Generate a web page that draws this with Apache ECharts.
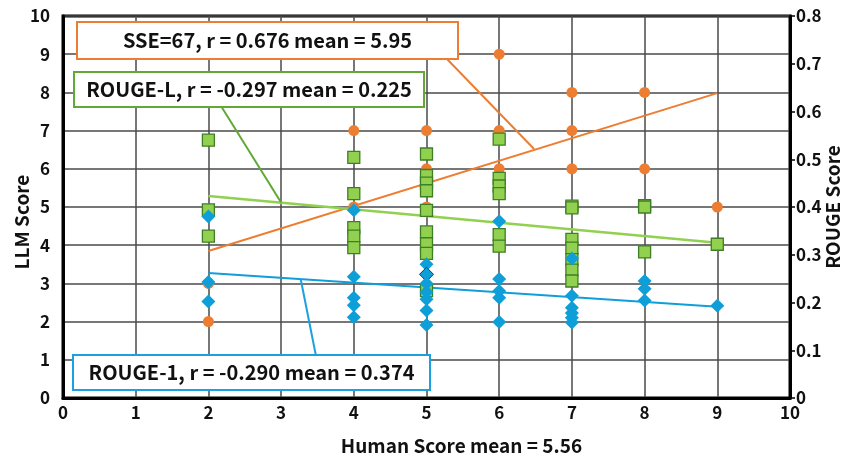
<!DOCTYPE html>
<html>
<head>
<meta charset="utf-8">
<script src="https://cdn.jsdelivr.net/npm/echarts@6/dist/echarts.min.js"></script>
<style>html,body{margin:0;padding:0;background:#fff}#c{width:845px;height:464px}</style>
</head>
<body>
<div id="c"></div>
<script>
// ---- data ----
const xTicks = [0,1,2,3,4,5,6,7,8,9,10];
const llmX = [2,2,4,4,5,5,5,6,6,6,7,7,7,8,8,9];
const llmY = [3,2,7,5,7,6,5,9,7,6,8,7,6,8,6,5];
const rougeLX = [2,2,2,4,4,4,4,4,5,5,5,5,5,5,5,5,5,6,6,6,6,6,6,7,7,7,7,7,7,7,8,8,8,9];
const rougeLY = [0.540,0.394,0.339,0.504,0.428,0.357,0.339,0.315,0.511,0.466,0.450,0.434,0.393,0.348,0.323,0.303,0.225,0.542,0.460,0.444,0.428,0.342,0.318,0.402,0.398,0.332,0.314,0.290,0.268,0.245,0.403,0.400,0.306,0.322];
const rouge1X = [2,2,2,4,4,4,4,4,5,5,5,5,5,5,5,6,6,6,6,6,7,7,7,7,7,7,8,8,8,9];
const rouge1Y = [0.380,0.243,0.202,0.393,0.254,0.210,0.194,0.169,0.280,0.259,0.240,0.222,0.207,0.183,0.153,0.370,0.249,0.224,0.210,0.159,0.292,0.214,0.189,0.178,0.168,0.158,0.245,0.229,0.204,0.193];
const fitX = [2,9];
const llmFitY = [3.85,7.98];
const rougeLFitY = [0.423,0.325];
const rouge1FitY = [0.262,0.191];
const outlinedRouge1Index = 9;
const labelLLM = 'SSE=67, r = 0.676 mean = 5.95';
const labelRougeL = 'ROUGE-L, r = -0.297 mean = 0.225';
const labelRouge1 = 'ROUGE-1, r = -0.290 mean = 0.374';
const xName = 'Human Score mean = 5.56';
const yName = 'LLM Score';
const y2Name = 'ROUGE Score';
// annotation anchor points (data coords on the fit lines)
const anchorLLM = [6.48, 6.52];
const anchorRougeL = [3.0, 5.12];
const anchorRouge1 = [3.27, 3.11];

const ORANGE = '#ed7d31', GREEN = '#92d050', GREEN_D = '#3f7f24', BLUE = '#0f9fd8';
const FONT = '"Noto Sans CJK JP", "Noto Sans", sans-serif';

const zip = (xs, ys) => xs.map((x, i) => [x, ys[i]]);

const chart = echarts.init(document.getElementById('c'), null, {renderer: 'canvas'});
const axisLabel = {fontFamily: FONT, fontSize: 17, color: '#111', fontWeight: 'bold'};
const nameStyle = {fontFamily: FONT, fontSize: 19, color: '#111', fontWeight: 'bold'};

const option = {
  animation: false,
  grid: {left: 63, right: 55, top: 16, bottom: 66, show: true, borderColor: '#000', borderWidth: 3, backgroundColor: 'transparent', containLabel: false, outerBoundsMode: 'none'},
  xAxis: {
    type: 'value', min: 0, max: 10, interval: 1,
    name: xName, nameLocation: 'middle', nameGap: 38, nameMoveOverlap: false,
    nameTextStyle: Object.assign({padding: [0, 0, 0, 70]}, nameStyle),
    axisLine: {show: true, lineStyle: {color: '#000', width: 3}},
    axisTick: {show: false},
    axisLabel: Object.assign({margin: 6, formatter: v => String(v)}, axisLabel),
    splitLine: {show: true, lineStyle: {color: '#4a4a4a', width: 1.5}}
  },
  yAxis: [{
    type: 'value', min: 0, max: 10, interval: 1, position: 'left',
    name: yName, nameLocation: 'middle', nameGap: 32, nameRotate: 90, nameMoveOverlap: false,
    nameTextStyle: Object.assign({padding: [0, 30, 0, 0]}, nameStyle),
    axisLine: {show: true, lineStyle: {color: '#000', width: 3}},
    axisTick: {show: false},
    axisLabel: Object.assign({margin: 13}, axisLabel),
    splitLine: {show: true, lineStyle: {color: '#4a4a4a', width: 1.5}}
  }, {
    type: 'value', min: 0, max: 0.8, interval: 0.1, position: 'right',
    name: y2Name, nameLocation: 'middle', nameGap: 33, nameRotate: 90, nameMoveOverlap: false, nameTextStyle: nameStyle,
    axisLine: {show: true, lineStyle: {color: '#000', width: 3}},
    axisTick: {show: true, inside: false, length: 5, lineStyle: {color: '#000', width: 1.5}},
    axisLabel: Object.assign({margin: 6, formatter: v => (Math.round(v * 10) / 10).toString()}, axisLabel),
    splitLine: {show: false}
  }],
  series: [
    {type: 'line', data: zip(fitX, llmFitY), symbol: 'none', lineStyle: {color: ORANGE, width: 2}, z: 2, silent: true},
    {type: 'line', yAxisIndex: 1, data: zip(fitX, rougeLFitY), symbol: 'none', lineStyle: {color: GREEN, width: 2.5}, z: 2, silent: true},
    {type: 'line', yAxisIndex: 1, data: zip(fitX, rouge1FitY), symbol: 'none', lineStyle: {color: BLUE, width: 2}, z: 2, silent: true},
    {type: 'scatter', data: zip(llmX, llmY), symbol: 'circle', symbolSize: 11, itemStyle: {color: ORANGE, opacity: 1}, z: 3},
    {type: 'scatter', yAxisIndex: 1, data: zip(rougeLX, rougeLY), symbol: 'rect', symbolSize: 12, itemStyle: {color: GREEN, borderColor: GREEN_D, borderWidth: 1.3, opacity: 1}, z: 4},
    {type: 'scatter', yAxisIndex: 1, data: zip(rouge1X, rouge1Y).map((p, i) => i === outlinedRouge1Index ? {value: p, itemStyle: {borderColor: '#1d3550', borderWidth: 1}} : p), symbol: 'diamond', symbolSize: 14, itemStyle: {color: BLUE, opacity: 1}, z: 5}
  ]
};
chart.setOption(option);

function px(p) { return chart.convertToPixel({gridIndex: 0}, p); }
function box(x, y, w, h, color, text) {
  return {
    type: 'group', z: 100, children: [
      {type: 'rect', shape: {x: x, y: y, width: w, height: h}, style: {fill: '#fff', stroke: color, lineWidth: 2}, z: 100},
      {type: 'text', x: x + w / 2, y: y + h / 2, style: {text: text, fill: '#111', font: 'bold 20px ' + FONT, textAlign: 'center', textVerticalAlign: 'middle'}, z: 101}
    ]
  };
}
function leader(from, toData, color) {
  const t = px(toData);
  return {type: 'line', shape: {x1: from[0], y1: from[1], x2: t[0], y2: t[1]}, style: {stroke: color, lineWidth: 2}, z: 90};
}
chart.setOption({
  graphic: [
    leader([446, 58], anchorLLM, ORANGE),
    leader([221, 106], anchorRougeL, '#5fa934'),
    leader([316, 356], anchorRouge1, '#1ba1e2'),
    box(77, 22, 381, 37, ORANGE, labelLLM),
    box(74, 72, 350, 35, '#5fa934', labelRougeL),
    box(73, 355, 357, 35, '#1ba1e2', labelRouge1)
  ]
});
</script>
</body>
</html>
